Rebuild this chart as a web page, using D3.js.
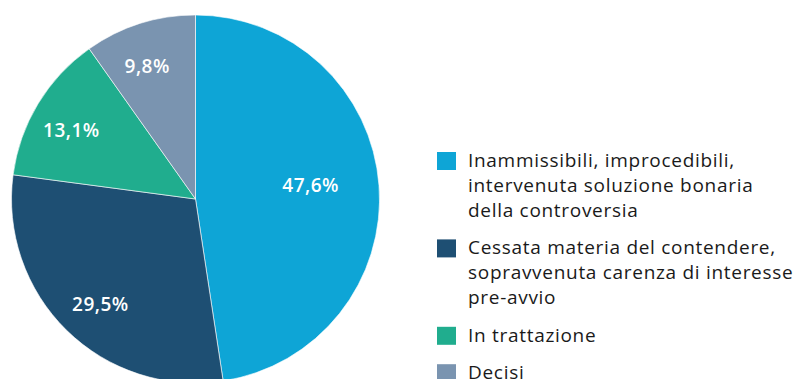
<!DOCTYPE html>
<html>
<head>
<meta charset="utf-8">
<script src="https://cdn.jsdelivr.net/npm/d3@7"></script>
<style>
  html, body { margin: 0; padding: 0; background: #ffffff; overflow: hidden; }
  svg { display: block; }
  text { font-family: "Open Sans", "Noto Sans", sans-serif; }
</style>
</head>
<body>
<svg id="chart" width="801" height="379"></svg>
<script>
// Esiti dei ricorsi (quote percentuali)
const categories = [
  "Inammissibili, improcedibili, intervenuta soluzione bonaria della controversia",
  "Cessata materia del contendere, sopravvenuta carenza di interesse pre-avvio",
  "In trattazione",
  "Decisi"
];
const legendLines = [
  ["Inammissibili, improcedibili,", "intervenuta soluzione bonaria", "della controversia"],
  ["Cessata materia del contendere,", "sopravvenuta carenza di interesse", "pre-avvio"],
  ["In trattazione"],
  ["Decisi"]
];
const values = [47.6, 29.5, 13.1, 9.8];
const colors = ["#0ea5d6", "#1e4f73", "#20ad8e", "#7a94b0"];

const svg = d3.select("#chart");

const cx = 195.5, cy = 199, r = 184;

const pie = d3.pie().sort(null).value(d => d.value);
const arc = d3.arc().innerRadius(0).outerRadius(r);

const data = categories.map((c, i) => ({ name: c, value: values[i], color: colors[i] }));
const arcs = pie(data);

const g = svg.append("g").attr("transform", `translate(${cx},${cy})`);

g.selectAll("path.slice")
  .data(arcs)
  .join("path")
  .attr("class", "slice")
  .attr("d", arc)
  .attr("fill", d => d.data.color)
  .attr("stroke", "#ffffff")
  .attr("stroke-width", 0.6);

const fmt = v => d3.format(".1f")(v).replace(".", ",") + "%";

// Value labels inside the slices; the largest slice keeps its label nearer the centre
g.selectAll("text.val")
  .data(arcs)
  .join("text")
  .attr("class", "val")
  .attr("transform", d => {
    const a = (d.startAngle + d.endAngle) / 2 - 0.04;
    const lr = r * (d.data.value > 40 ? 0.63 : 0.77);
    return `translate(${Math.sin(a) * lr},${-Math.cos(a) * lr})`;
  })
  .attr("text-anchor", "middle")
  .attr("dy", "0.36em")
  .attr("fill", "#ffffff")
  .attr("font-size", 19)
  .attr("font-weight", 600)
  .attr("letter-spacing", 0.5)
  .text(d => fmt(d.data.value));

// Legend
const lx = 437, ly = 152, lineH = 25, gap = 12.4;
const legend = svg.append("g").attr("transform", `translate(${lx},${ly})`);
let yOff = 0;
legendLines.forEach((lines, i) => {
  const item = legend.append("g").attr("transform", `translate(0,${yOff})`);
  item.append("rect")
    .attr("width", 19).attr("height", 18)
    .attr("fill", colors[i]);
  const t = item.append("text")
    .attr("x", 31)
    .attr("y", 15)
    .attr("fill", "#1a1a1a")
    .attr("font-size", 19)
    .attr("letter-spacing", 0.7);
  lines.forEach((ln, j) => {
    t.append("tspan").attr("x", 31).attr("dy", j === 0 ? 0 : lineH).text(ln);
  });
  yOff += lines.length * lineH + gap;
});
</script>
</body>
</html>
